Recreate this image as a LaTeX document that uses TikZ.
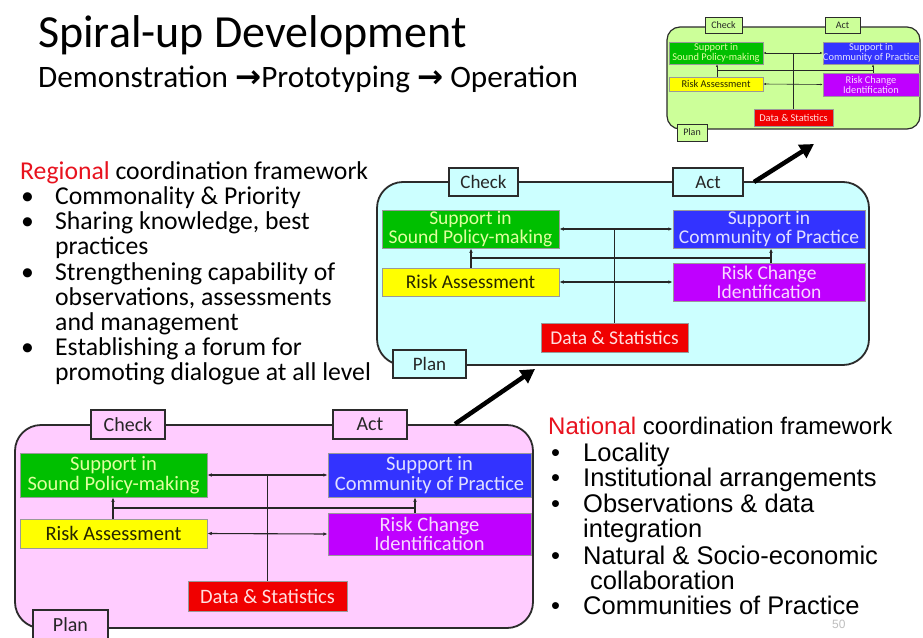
\documentclass[tikz,border=0pt]{standalone}
\usepackage{fontspec}
\setmainfont{Carlito}
\newfontfamily\arialfont{Liberation Sans}
\newfontfamily\symfont{DejaVu Sans}
\usetikzlibrary{arrows.meta}

\definecolor{pinkbg}{HTML}{FFCCFF}
\definecolor{cyanbg}{HTML}{CCFFFF}
\definecolor{limebg}{HTML}{CCFF99}
\definecolor{boxgreen}{HTML}{00BF00}
\definecolor{boxblue}{HTML}{3333FF}
\definecolor{boxyellow}{HTML}{FFFF00}
\definecolor{boxviolet}{HTML}{BF00FF}
\definecolor{boxred}{HTML}{F00000}
\definecolor{txtgreen}{HTML}{E0FFA0}
\definecolor{txtblue}{HTML}{E0E0FF}
\definecolor{txtyellow}{HTML}{262600}
\definecolor{txtviolet}{HTML}{F8D8FF}
\definecolor{txtred}{HTML}{FFE0E0}
\definecolor{hdred}{HTML}{E8121E}
\definecolor{frameline}{HTML}{2B2B2B}

\tikzset{
  % a rectangular node spanning the corners (#1,#2) and (#3,#4)
  span/.style n args={4}{at={({(#1+#3)/2},{(#2+#4)/2})},
    minimum width={(#3-#1)*1pt}, minimum height={(#4-#2)*1pt}},
  frame/.style={draw=frameline, line width=1.8pt, rounded corners=26pt, inner sep=0pt},
  tag/.style={draw=frameline, line width=1.4pt, inner sep=0pt, text=black!85},
  cell/.style={draw=black!40, line width=0.5pt, inner sep=0pt, align=center},
  polcell/.style={cell, fill=boxgreen, text=txtgreen},
  comcell/.style={cell, fill=boxblue, text=txtblue},
  riskcell/.style={cell, fill=boxyellow, text=txtyellow},
  rcidcell/.style={cell, fill=boxviolet, text=txtviolet},
  datacell/.style={cell, fill=boxred, text=txtred},
  link/.style={draw=black!85, line width=1.1pt},
  tiny/.style={link, line width=0.6pt},
  uptip/.style={-{Latex[length=4.5pt,width=3.5pt]}},
  twotip/.style={{Latex[length=4.5pt,width=3.5pt]}-{Latex[length=4.5pt,width=3.5pt]}},
  smalltip/.style={-{Latex[length=2.5pt,width=2pt]}},
  smalltwotip/.style={{Latex[length=2.5pt,width=2pt]}-{Latex[length=2.5pt,width=2pt]}},
  bigarrow/.style={draw=black, line width=4.5pt, -{Triangle[length=14pt,width=15pt]}},
  txt/.style={inner sep=0pt, anchor=base west},
  regfont/.style={txt, font=\fontsize{25.7}{25.7}\selectfont},
  natfont/.style={txt, font=\arialfont\fontsize{25.5}{25.5}\selectfont},
}

\begin{document}
\begin{tikzpicture}[x=1pt, y=-1pt]
\clip (0,0) rectangle (923,637);
\fill[white] (0,0) rectangle (923,637);

% ---------- heading ----------
\node[txt, font=\fontsize{46}{46}\selectfont] (title) at (38,47) {Spiral-up Development};
\node[txt, font=\fontsize{31.2}{31.2}\selectfont] (subtitle) at (38,87)
  {Demonstration {\symfont\bfseries →}Prototyping {\symfont\bfseries →} Operation};

% ---------- regional framework ----------
\node[regfont] (rg0) at (20,179) {\textcolor{hdred}{Regional} coordination framework};
\node[regfont] (rb1) at (21,204.5) {\textbullet};
\node[regfont] (rg1) at (55,204.5) {Commonality \& Priority};
\node[regfont] (rb2) at (21,229.7) {\textbullet};
\node[regfont] (rg2) at (55,229.7) {Sharing knowledge, best};
\node[regfont] (rg3) at (55,254.9) {practices};
\node[regfont] (rb4) at (21,280.1) {\textbullet};
\node[regfont] (rg4) at (55,280.1) {Strengthening capability of};
\node[regfont] (rg5) at (55,305.3) {observations, assessments};
\node[regfont] (rg6) at (55,330.5) {and management};
\node[regfont] (rb7) at (21,355.7) {\textbullet};
\node[regfont] (rg7) at (55,355.7) {Establishing a forum for};
\node[regfont] (rg8) at (55,380.9) {promoting dialogue at all level};

% ---------- national framework ----------
\node[txt, font=\arialfont\fontsize{24}{24}\selectfont] (nt0) at (548,434)
  {\textcolor{hdred}{National} coordination framework};
\node[natfont] (nb1) at (551,461) {\textbullet};
\node[natfont] (nt1) at (583,461) {Locality};
\node[natfont] (nb2) at (551,486.5) {\textbullet};
\node[natfont] (nt2) at (583,486.5) {Institutional arrangements};
\node[natfont] (nb3) at (551,512) {\textbullet};
\node[natfont] (nt3) at (583,512) {Observations \& data};
\node[natfont] (nt4) at (583,537.5) {integration};
\node[natfont] (nb5) at (551,564) {\textbullet};
\node[natfont] (nt5) at (583,564) {Natural \& Socio-economic};
\node[natfont] (nt6) at (590,589) {collaboration};
\node[natfont] (nb7) at (551,614.5) {\textbullet};
\node[natfont] (nt7) at (583,614.5) {Communities of Practice};
\node[txt, text=black!25, font=\arialfont\fontsize{12}{12}\selectfont] (pageno) at (832,628) {50};

% ---------- first cycle (pink) ----------
\begin{scope}[every node/.append style={font=\fontsize{20.5}{19.5}\selectfont}]
\node[frame, fill=pinkbg, span={15}{425}{533}{628}] (pframe) {};
\node[tag, fill=pinkbg, span={91}{410}{165}{439}, font=\fontsize{20}{20}\selectfont] (pcheck) {Check};
\node[tag, fill=pinkbg, span={333}{410}{407}{439}, font=\fontsize{20}{20}\selectfont] (pact) {Act};
\node[tag, fill=pinkbg, span={33}{610}{108}{639}, font=\fontsize{20}{20}\selectfont] (pplan) {Plan};
\node[polcell, span={20}{453}{207}{497}] (ppol) {Support in\\Sound Policy-making};
\node[comcell, span={328}{453}{531}{497}] (pcom) {Support in\\Community of Practice};
\node[riskcell, span={20}{519}{207}{548}] (prisk) {Risk Assessment};
\node[rcidcell, span={328}{513}{531}{555}] (prcid) {Risk Change\\Identification};
\node[datacell, span={188}{581}{347}{611}] (pdata) {Data \& Statistics};
\coordinate (plk1) at (113,508);
\coordinate (plk2) at (415,508);
\draw[link] (pdata.north) -- (pdata.north |- ppol.east);
\draw[link, twotip] (ppol.east) -- (pcom.west);
\draw[link, twotip] (prisk.east) -- (prcid.west);
\draw[link] (plk1) -- (plk2);
\draw[link, uptip] (prisk.north -| plk1) -- (ppol.south -| plk1);
\draw[link, uptip] (prcid.north -| plk2) -- (pcom.south -| plk2);
\end{scope}

% ---------- second cycle (cyan) ----------
\begin{scope}[every node/.append style={font=\fontsize{19.5}{18.8}\selectfont}]
\node[frame, fill=cyanbg, span={377}{182}{869}{365}] (cframe) {};
\node[tag, fill=cyanbg, span={449}{168}{518}{196}, font=\fontsize{19}{19}\selectfont] (ccheck) {Check};
\node[tag, fill=cyanbg, span={673}{168}{743}{196}, font=\fontsize{19}{19}\selectfont] (cact) {Act};
\node[tag, fill=cyanbg, span={393}{350}{466}{378}, font=\fontsize{19}{19}\selectfont] (cplan) {Plan};
\node[polcell, span={382}{210}{559}{248}] (cpol) {Support in\\Sound Policy-making};
\node[comcell, span={673}{210}{865}{248}] (ccom) {Support in\\Community of Practice};
\node[riskcell, span={382}{268}{559}{296}] (crisk) {Risk Assessment};
\node[rcidcell, span={673}{263}{865}{301}] (crcid) {Risk Change\\Identification};
\node[datacell, span={541}{323}{688}{352}] (cdata) {Data \& Statistics};
\coordinate (clk1) at (471,258);
\coordinate (clk2) at (771,258);
\draw[link] (cdata.north) -- (cdata.north |- cpol.east);
\draw[link, twotip] (cpol.east) -- (ccom.west);
\draw[link, twotip] (crisk.east) -- (crcid.west);
\draw[link] (clk1) -- (clk2);
\draw[link, uptip] (crisk.north -| clk1) -- (cpol.south -| clk1);
\draw[link, uptip] (crcid.north -| clk2) -- (ccom.south -| clk2);
\end{scope}

% ---------- third cycle (lime) ----------
\begin{scope}[every node/.append style={font=\fontsize{10.4}{10}\selectfont}]
\node[frame, line width=1.2pt, rounded corners=13pt, fill=limebg, span={667}{27}{920}{129}] (gframe) {};
\node[tag, line width=0.9pt, fill=limebg, span={705}{17}{742}{33}, font=\fontsize{10}{10}\selectfont] (gcheck) {Check};
\node[tag, line width=0.9pt, fill=limebg, span={825}{17}{860}{33}, font=\fontsize{10}{10}\selectfont] (gact) {Act};
\node[tag, line width=0.9pt, fill=limebg, span={677}{124}{707}{141}, font=\fontsize{10}{10}\selectfont] (gplan) {Plan};
\node[polcell, span={669}{42}{763}{64}] (gpol) {Support in\\Sound Policy-making};
\node[comcell, span={823}{42}{919}{64}] (gcom) {Support in\\Community of Practice};
\node[riskcell, span={669}{77}{763}{91}] (grisk) {Risk Assessment};
\node[rcidcell, span={823}{73}{919}{96}] (grcid) {Risk Change\\Identification};
\node[datacell, span={754}{109}{833}{126}] (gdata) {Data \& Statistics};
\coordinate (glk1) at (717,70);
\coordinate (glk2) at (873,70);
\draw[tiny] (gdata.north) -- (gdata.north |- gpol.east);
\draw[tiny, smalltwotip] (gpol.east) -- (gcom.west);
\draw[tiny, smalltwotip] (grisk.east) -- (grcid.west);
\draw[tiny] (glk1) -- (glk2);
\draw[tiny, smalltip] (grisk.north -| glk1) -- (gpol.south -| glk1);
\draw[tiny, smalltip] (grcid.north -| glk2) -- (gcom.south -| glk2);
\end{scope}

% ---------- spiral steps ----------
\coordinate (step1a) at (455,424);
\coordinate (step1b) at (535,369);
\coordinate (step2a) at (754,182);
\coordinate (step2b) at (814,144);
\draw[bigarrow] (step1a) -- (step1b);
\draw[bigarrow] (step2a) -- (step2b);
\end{tikzpicture}
\end{document}
